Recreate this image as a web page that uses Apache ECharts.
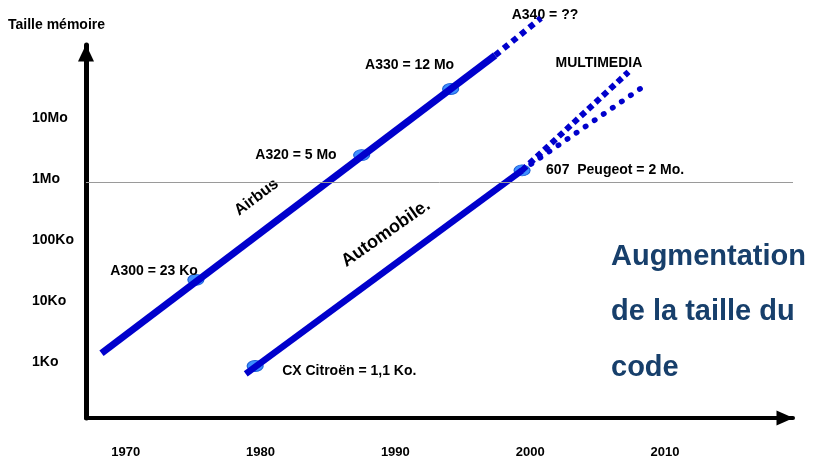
<!DOCTYPE html>
<html lang="fr">
<head>
    <meta charset="UTF-8">
    <title>Taille du code</title>
    <style>
        html, body { margin: 0; padding: 0; background: #fff; }
    </style>
</head>
<body>

<div id="main" style="width: 814px; height: 460px;"></div>

<script src="https://cdn.jsdelivr.net/npm/echarts@6/dist/echarts.min.js"></script>
<script>
    // axes : annees en x, log10(taille en Ko) en y
    var yearTicks = [1970, 1980, 1990, 2000, 2010];
    var sizeTicks = [0, 1, 2, 3, 4];
    var sizeLabels = ['1Ko', '10Ko', '100Ko', '1Mo', '10Mo'];
    var refLine = 2.95; // trait fin du 1Mo

    // courbes
    var airbusLine = [[1968.2, 0.15], [1997.4, 5.02]];
    var airbusFuture = [[1997.4, 5.02], [2000.8, 5.63]];
    var autoLine = [[1978.9, -0.19], [1999.4, 3.14]];
    var multimediaFuture = [[1999.4, 3.14], [2007.3, 4.75]];
    var autoFuture = [[1999.4, 3.14], [2008.2, 4.48]];

    // jalons
    var milestoneNames = ['A300 = 23 Ko', 'A320 = 5 Mo', 'A330 = 12 Mo', 'CX Citroën = 1,1 Ko.', '607  Peugeot = 2 Mo.'];
    var milestoneYears = [1975.2, 1987.5, 1994.1, 1979.6, 1999.4];
    var milestoneSizes = [1.35, 3.39, 4.47, -0.06, 3.14];

    // textes libres
    var noteNames = ['Airbus', 'Automobile.', 'A340 = ??', 'MULTIMEDIA'];
    var noteYears = [1979.7, 1989.3, 2001.1, 2005.1];
    var noteSizes = [2.70, 2.11, 5.68, 4.89];

    var font = "'Liberation Sans', Arial, sans-serif";
    var blue = '#0000CC';

    // placement des etiquettes des jalons
    var milestoneLabel = [
        {align: 'right', offset: [2, -9]},
        {align: 'right', offset: [-25, 0]},
        {align: 'center', offset: [-41, -24]},
        {align: 'left', offset: [27, 5]},
        {align: 'left', offset: [24, 0]}
    ];
    var noteLabel = [
        {rotate: 37, fontSize: 16},
        {rotate: 35, fontSize: 18},
        {rotate: 0, fontSize: 14},
        {rotate: 0, fontSize: 14}
    ];

    var myChart = echarts.init(document.getElementById('main'));

    var option = {
        animation: false,
        title: [
            {
                text: 'Taille mémoire',
                left: 8,
                top: 17,
                padding: 0,
                textStyle: {fontFamily: font, fontSize: 14, fontWeight: 'bold', color: '#000', lineHeight: 16}
            },
            {
                text: 'Augmentation\nde la taille du\ncode',
                left: 611,
                top: 229,
                padding: 0,
                textStyle: {fontFamily: font, fontSize: 29, fontWeight: 'bold', color: '#173F6B', lineHeight: 55.5}
            }
        ],
        grid: {left: 86, right: 21, top: 45, bottom: 42},
        xAxis: {
            type: 'value',
            min: 1967.05,
            max: 2019.5,
            axisLine: {
                show: true,
                onZero: false,
                symbol: ['none', 'triangle'],
                symbolSize: [15, 17],
                symbolOffset: [0, -8],
                lineStyle: {color: '#000', width: 4}
            },
            axisTick: {show: false},
            splitLine: {show: false},
            axisLabel: {
                customValues: yearTicks,
                margin: 28,
                fontFamily: font,
                fontSize: 13,
                fontWeight: 'bold',
                color: '#000',
                formatter: function (v) {
                    return String(Math.round(v));
                }
            }
        },
        yAxis: {
            type: 'value',
            min: -0.91,
            max: 5.19,
            axisLine: {
                show: true,
                onZero: false,
                symbol: ['none', 'triangle'],
                symbolSize: [16, 17],
                symbolOffset: [0, -8],
                lineStyle: {color: '#000', width: 5}
            },
            axisTick: {show: false},
            splitLine: {show: false},
            axisLabel: {
                customValues: sizeTicks,
                align: 'left',
                margin: 54,
                fontFamily: font,
                fontSize: 14,
                fontWeight: 'bold',
                color: '#000',
                formatter: function (v) {
                    var i = sizeTicks.indexOf(Math.round(v));
                    return i >= 0 ? sizeLabels[i] : '';
                }
            }
        },
        series: [
            {
                type: 'line',
                data: [],
                silent: true,
                markLine: {
                    symbol: 'none',
                    silent: true,
                    label: {show: false},
                    lineStyle: {color: '#9a9a9a', width: 1, type: 'solid'},
                    data: [{yAxis: refLine}]
                }
            },
            {
                name: 'Airbus',
                type: 'line',
                data: airbusLine,
                symbol: 'none',
                clip: false,
                lineStyle: {color: blue, width: 7}
            },
            {
                type: 'line',
                data: airbusFuture,
                symbol: 'none',
                clip: false,
                lineStyle: {color: blue, width: 6, type: [6, 5], cap: 'butt'}
            },
            {
                name: 'Automobile',
                type: 'line',
                data: autoLine,
                symbol: 'none',
                clip: false,
                lineStyle: {color: blue, width: 6.5}
            },
            {
                type: 'line',
                data: multimediaFuture,
                symbol: 'none',
                clip: false,
                lineStyle: {color: blue, width: 6, type: [6, 4], cap: 'butt'}
            },
            {
                type: 'line',
                data: autoFuture,
                symbol: 'none',
                clip: false,
                lineStyle: {color: blue, width: 5.5, type: [0.5, 10.5], cap: 'round'}
            },
            {
                type: 'scatter',
                clip: false,
                symbol: 'circle',
                symbolSize: [16, 11],
                itemStyle: {color: '#3F8FFF', borderColor: '#1E63D8', borderWidth: 1, opacity: 1},
                data: milestoneNames.map(function (n, i) {
                    return {
                        name: n,
                        value: [milestoneYears[i], milestoneSizes[i]],
                        label: {
                            show: true,
                            position: 'inside',
                            formatter: '{b}',
                            align: milestoneLabel[i].align,
                            offset: milestoneLabel[i].offset,
                            fontFamily: font,
                            fontSize: 14,
                            fontWeight: 'bold',
                            color: '#000'
                        }
                    };
                })
            },
            {
                type: 'scatter',
                clip: false,
                symbolSize: 0,
                itemStyle: {opacity: 1},
                data: noteNames.map(function (n, i) {
                    return {
                        name: n,
                        value: [noteYears[i], noteSizes[i]],
                        label: {
                            show: true,
                            position: 'inside',
                            formatter: '{b}',
                            rotate: noteLabel[i].rotate,
                            fontFamily: font,
                            fontSize: noteLabel[i].fontSize,
                            fontWeight: 'bold',
                            color: '#000'
                        }
                    };
                })
            }
        ]
    };
    myChart.setOption(option);
</script>
</body>
</html>
